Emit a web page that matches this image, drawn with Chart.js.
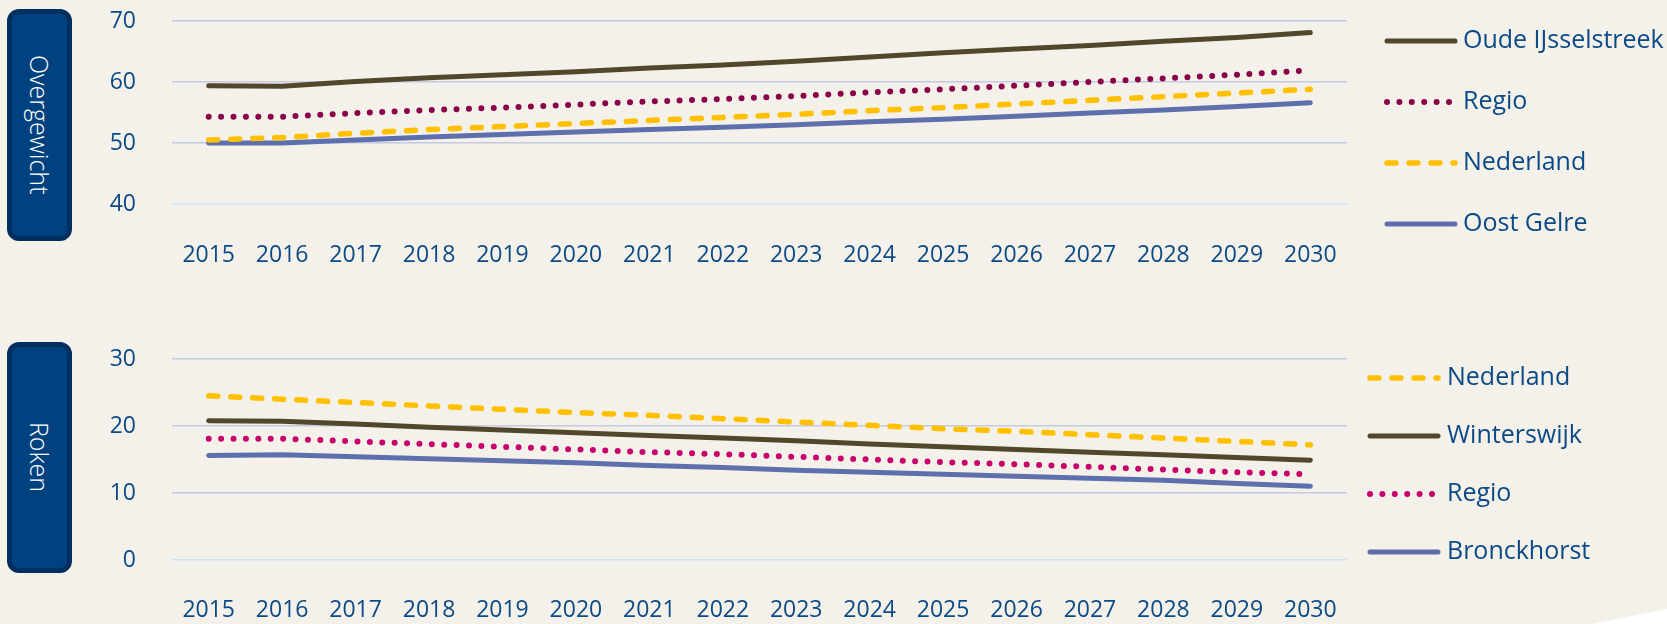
<!DOCTYPE html>
<html>
<head>
<meta charset="utf-8">
<script src="https://cdn.jsdelivr.net/npm/chart.js@4/dist/chart.umd.min.js"></script>
<style>
  html, body { margin: 0; padding: 0; background: #f3f1e9; }
  body { width: 1667px; height: 624px; position: relative; overflow: hidden; font-family: "Open Sans", sans-serif; }
  canvas { position: absolute; left: 0; }
  #topChart { top: 0; }
  #bottomChart { top: 300px; }
  .tag {
    position: absolute; left: 7px; width: 55px;
    background: #00427f; border: 5px solid #002f60; border-radius: 12px;
    color: #fff; font-size: 25px; font-weight: 300;
    display: flex; align-items: center; justify-content: center;
  }
  .tag span { writing-mode: vertical-rl; }
  #tagTop { top: 9px; height: 222px; }
  #tagBottom { top: 342px; height: 221px; }
  #corner {
    position: absolute; left: 0; top: 0; width: 1667px; height: 624px; background: #fff;
    clip-path: polygon(1593px 624px, 1667px 609px, 1667px 624px);
  }
</style>
</head>
<body>
<div class="tag" id="tagTop"><span>Overgewicht</span></div>
<div class="tag" id="tagBottom"><span>Roken</span></div>
<canvas id="topChart" width="1667" height="290"></canvas>
<canvas id="bottomChart" width="1667" height="324"></canvas>
<div id="corner"></div>
<script>
const years = ['2015','2016','2017','2018','2019','2020','2021','2022','2023','2024','2025','2026','2027','2028','2029','2030'];

// Overgewicht (%)
const overgewichtOude      = [59.4, 59.3, 60.1, 60.7, 61.2, 61.7, 62.3, 62.8, 63.4, 64.1, 64.8, 65.4, 66.0, 66.7, 67.3, 68.1];
const overgewichtRegio     = [54.3, 54.3, 54.9, 55.4, 55.8, 56.3, 56.8, 57.2, 57.7, 58.3, 58.8, 59.4, 60.0, 60.6, 61.2, 61.9];
const overgewichtNederland = [50.5, 50.9, 51.6, 52.2, 52.7, 53.2, 53.7, 54.2, 54.7, 55.3, 55.8, 56.4, 57.0, 57.6, 58.2, 58.8];
const overgewichtOostGelre = [50.0, 50.0, 50.5, 51.0, 51.4, 51.8, 52.2, 52.6, 53.0, 53.5, 53.9, 54.4, 54.9, 55.4, 56.0, 56.6];

// Roken (%)
const rokenNederland   = [24.5, 24.0, 23.5, 23.0, 22.5, 22.0, 21.6, 21.1, 20.6, 20.1, 19.6, 19.2, 18.7, 18.2, 17.7, 17.2];
const rokenWinterswijk = [20.8, 20.7, 20.3, 19.8, 19.4, 19.0, 18.6, 18.2, 17.8, 17.3, 16.9, 16.5, 16.1, 15.7, 15.3, 14.9];
const rokenRegio       = [18.1, 18.1, 17.7, 17.3, 16.9, 16.5, 16.1, 15.8, 15.4, 15.0, 14.6, 14.3, 13.9, 13.5, 13.1, 12.8];
const rokenBronckhorst = [15.6, 15.7, 15.4, 15.1, 14.8, 14.5, 14.1, 13.8, 13.4, 13.1, 12.8, 12.5, 12.2, 11.9, 11.4, 11.0];

const textColor = '#0c4a86';
const brown = '#51472a';
const yellow = '#ffc000';
const blue = '#5d70ad';

const styles = {
  solid:  { dash: [], width: 5 },
  dashed: { dash: [9, 13], width: 5.5 },
  dotted: { dash: [0, 12.4], width: 6 }
};

function line(label, data, color, style) {
  const s = styles[style];
  return {
    label, data,
    borderColor: color,
    backgroundColor: color,
    borderWidth: s.width,
    borderDash: s.dash,
    borderCapStyle: 'round',
    borderJoinStyle: 'round',
    pointRadius: 0,
    fill: false,
    tension: 0
  };
}

// draws legend rows to the right of the plot
const sideLegend = {
  id: 'sideLegend',
  afterDraw(chart, args, opts) {
    const ctx = chart.ctx;
    ctx.save();
    chart.data.datasets.forEach((ds, i) => {
      const y = opts.y0 + i * opts.dy;
      ctx.strokeStyle = ds.borderColor;
      ctx.lineWidth = ds.borderWidth;
      ctx.lineCap = 'round';
      ctx.setLineDash(ds.borderDash);
      ctx.beginPath();
      ctx.moveTo(opts.x0, y);
      ctx.lineTo(opts.x1, y);
      ctx.stroke();
      ctx.setLineDash([]);
      ctx.fillStyle = textColor;
      ctx.font = '500 25px "Open Sans"';
      ctx.textBaseline = 'middle';
      ctx.fillText(ds.label, opts.tx, y);
    });
    ctx.restore();
  }
};

const tickFont = { family: 'Open Sans', size: 23, weight: '500' };

function makeChart(el, datasets, min, max, padding, xPad, leg) {
  return new Chart(document.getElementById(el), {
    type: 'line',
    data: { labels: years, datasets },
    options: {
      responsive: false,
      animation: false,
      devicePixelRatio: 1,
      layout: { padding, autoPadding: false },
      plugins: { legend: { display: false }, tooltip: { enabled: false }, sideLegend: leg },
      scales: {
        x: {
          offset: true,
          grid: { display: false },
          border: { display: false },
          ticks: { color: textColor, font: tickFont, padding: xPad, maxRotation: 0, autoSkip: false },
          afterFit(s) { s.height = 63; }
        },
        y: {
          min, max,
          grid: {
            tickLength: 36,
            tickColor: 'transparent',
            lineWidth: 1.5,
            color: c => c.tick.value === min ? '#cde3f6' : '#c5cae0'
          },
          border: { display: false },
          ticks: { stepSize: 10, color: textColor, font: tickFont, padding: 0 },
          afterFit(s) { s.width = 172; }
        }
      }
    },
    plugins: [sideLegend]
  });
}

makeChart('topChart', [
  line('Oude IJsselstreek', overgewichtOude, brown, 'solid'),
  line('Regio', overgewichtRegio, '#8a0049', 'dotted'),
  line('Nederland', overgewichtNederland, yellow, 'dashed'),
  line('Oost Gelre', overgewichtOostGelre, blue, 'solid')
], 40, 70, { top: 21, right: 320, bottom: 23, left: 0 }, 30,
  { x0: 1387, x1: 1455, tx: 1463, y0: 41, dy: 61 });

makeChart('bottomChart', [
  line('Nederland', rokenNederland, yellow, 'dashed'),
  line('Winterswijk', rokenWinterswijk, brown, 'solid'),
  line('Regio', rokenRegio, '#c8006c', 'dotted'),
  line('Bronckhorst', rokenBronckhorst, blue, 'solid')
], 0, 30, { top: 59, right: 320, bottom: 1, left: 0 }, 29,
  { x0: 1370, x1: 1438, tx: 1447, y0: 78, dy: 58 });
</script>
</body>
</html>
